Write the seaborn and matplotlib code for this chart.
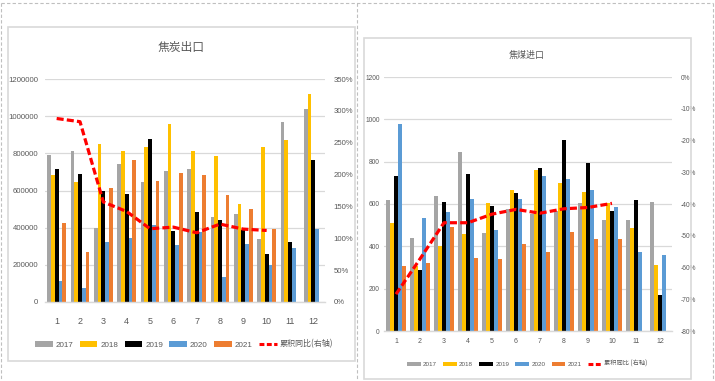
import numpy as np
import pandas as pd
import matplotlib
matplotlib.use("Agg")
import matplotlib.pyplot as plt
import seaborn as sns
from matplotlib.patches import Rectangle, Patch
from matplotlib.lines import Line2D
from matplotlib import font_manager

# ---------------- data ----------------
months = [str(m) for m in range(1, 13)]
years = ["2017", "2018", "2019", "2020", "2021"]

# 焦炭出口 (left chart)
coke_2017 = [792000, 813000, 396000, 743000, 647000, 706000, 716000, 460000, 471000, 340000, 969000, 1037000]
coke_2018 = [684000, 647000, 849000, 813000, 833000, 960000, 813000, 786000, 528000, 833000, 872000, 1119000]
coke_2019 = [716000, 690000, 596000, 582000, 878000, 383000, 485000, 442000, 389000, 260000, 324000, 765000]
coke_2020 = [111000, 73000, 324000, 346000, 416000, 308000, 376000, 136000, 313000, 201000, 292000, 394000]
coke_2021 = [426000, 267000, 614000, 765000, 652000, 695000, 684000, 577000, 502000, 394000, np.nan, np.nan]
coke_cum = [2.88, 2.83, 1.57, 1.42, 1.15, 1.175, 1.087, 1.223, 1.144, 1.123]  # 累积同比

# 焦煤进口 (right chart)
coal_2017 = [620, 440, 639, 846, 463, 575, 553, 568, 603, 526, 526, 610]
coal_2018 = [510, 305, 401, 459, 603, 668, 761, 698, 657, 606, 485, 313]
coal_2019 = [734, 290, 609, 740, 589, 654, 771, 903, 794, 567, 617, 169]
coal_2020 = [977, 534, 562, 624, 477, 624, 734, 717, 668, 587, 371, 357]
coal_2021 = [309, 320, 489, 346, 338, 412, 374, 466, 433, 437, np.nan, np.nan]
coal_cum = [-0.684, -0.573, -0.459, -0.459, -0.432, -0.417, -0.429, -0.415, -0.411, -0.398]

palette = ["#A5A5A5", "#FFC000", "#000000", "#5B9BD5", "#ED7D31"]
LINE_RED = "#FF0000"
GRID = "#D9D9D9"
TXT = "#595959"

def long_df(series):
    rows = []
    for y, vals in zip(years, series):
        for m, v in zip(months, vals):
            rows.append({"month": m, "year": y, "value": v})
    return pd.DataFrame(rows)

df_coke = long_df([coke_2017, coke_2018, coke_2019, coke_2020, coke_2021])
df_coal = long_df([coal_2017, coal_2018, coal_2019, coal_2020, coal_2021])

sns.set_theme(style="white")
plt.rcParams["font.family"] = ["Noto Sans CJK SC", "DejaVu Sans"]

available = {f.name for f in font_manager.fontManager.ttflist}
NARROW = "Liberation Sans Narrow" if "Liberation Sans Narrow" in available else "Liberation Sans"
NUMFAM = [NARROW, "Noto Sans CJK SC", "DejaVu Sans"]

W, H = 715, 381
fig = plt.figure(figsize=(W / 100, H / 100), dpi=100)

def fx(px):
    return px / W

def fy(py):
    return 1 - py / H

# page decorations: dashed outer borders and chart frames
dash = (0, (3, 2))
fig.add_artist(Line2D([fx(1), fx(713)], [fy(3), fy(3)], color="#BFBFBF", lw=0.8, ls=dash))
fig.add_artist(Line2D([fx(1), fx(1)], [fy(3), fy(381)], color="#BFBFBF", lw=0.8, ls=dash))
fig.add_artist(Line2D([fx(357), fx(357)], [fy(3), fy(381)], color="#BFBFBF", lw=0.8, ls=dash))
fig.add_artist(Line2D([fx(713), fx(713)], [fy(3), fy(381)], color="#BFBFBF", lw=0.8, ls=dash))
fig.add_artist(Rectangle((fx(8), fy(361)), fx(355) - fx(8), fy(27) - fy(361),
                         fill=False, ec="#D9D9D9", lw=1.2))
fig.add_artist(Rectangle((fx(364), fy(379)), fx(691) - fx(364), fy(38) - fy(379),
                         fill=False, ec="#D9D9D9", lw=1.2))


def draw_panel(rect, df, cum, ymax, ystep, y2lim, y2step, title, title_xy, title_size,
               legend_xy, legend_label, tick_size, ytick_size, leg_size, xpad, ypad,
               colspace, handlelen):
    ax = fig.add_axes(rect)
    sns.barplot(data=df, x="month", y="value", hue="year", hue_order=years,
                order=months, palette=palette, width=0.8, ax=ax, legend=False,
                saturation=1, errorbar=None, linewidth=0)
    ax.set_ylim(0, ymax)
    yt = np.arange(0, ymax + 1, ystep)
    ax.set_yticks(yt)
    ax.set_yticklabels([f"{int(v)}" for v in yt])
    ax.set_xlabel("")
    ax.set_ylabel("")
    ax.grid(axis="y", color=GRID, lw=0.9)
    ax.set_axisbelow(True)
    for s in ["top", "left", "right"]:
        ax.spines[s].set_visible(False)
    ax.spines["bottom"].set_color(GRID)
    ax.spines["bottom"].set_linewidth(1.0)
    ax.tick_params(axis="x", length=0, labelsize=tick_size, colors=TXT, pad=xpad)
    ax.tick_params(axis="y", length=0, labelsize=ytick_size, colors=TXT, pad=ypad)
    for lab in ax.get_xticklabels() + ax.get_yticklabels():
        lab.set_family(NUMFAM)
    ax.set_xlim(-0.5, 11.5)

    ax2 = ax.twinx()
    sns.lineplot(x=np.arange(len(cum)), y=cum, ax=ax2, color=LINE_RED, lw=2.3,
                 linestyle=(0, (2.2, 1.0)), legend=False)
    ax2.set_ylim(*y2lim)
    ticks2 = np.arange(y2lim[0], y2lim[1] + 1e-9, y2step)
    ax2.set_yticks(ticks2)
    ax2.set_yticklabels([f"{int(round(t * 100))}%" for t in ticks2])
    ax2.tick_params(axis="y", length=0, labelsize=ytick_size, colors=TXT, pad=6)
    for lab in ax2.get_yticklabels():
        lab.set_family(NUMFAM)
    ax2.grid(False)
    for s in ax2.spines.values():
        s.set_visible(False)
    ax2.set_xlim(-0.5, 11.5)

    fig.text(fx(title_xy[0]), fy(title_xy[1]), title, ha="center", va="center",
             fontsize=title_size, color=TXT)

    handles = [Patch(facecolor=c, edgecolor="none") for c in palette]
    handles.append(Line2D([0], [0], color=LINE_RED, lw=2.2, ls=(0, (1.6, 0.8))))
    labels = years + [legend_label]
    leg = fig.legend(handles, labels, loc="center",
                     bbox_to_anchor=(fx(legend_xy[0]), fy(legend_xy[1])),
                     ncol=6, frameon=False, fontsize=leg_size, handlelength=handlelen,
                     handleheight=0.7, columnspacing=colspace, handletextpad=0.35,
                     labelcolor=TXT, borderpad=0, borderaxespad=0)
    for t in leg.get_texts()[:5]:
        t.set_family(NUMFAM)
    return ax, ax2


draw_panel([fx(45), fy(302), fx(325) - fx(45), fy(79) - fy(302)], df_coke, coke_cum,
           1200000, 200000, (0, 3.5), 0.5, "焦炭出口", (181, 47), 8.5,
           (184, 344), "累积同比(右轴)", 6.5, 5.6, 5.8, 11, 5, 0.8, 2.2)

draw_panel([fx(384), fy(331), fx(672) - fx(384), fy(77) - fy(331)], df_coal, coal_cum,
           1200, 200, (-0.8, 0.0), 0.1, "焦煤进口", (527, 55), 6.5,
           (527, 364), "累积同比 (右轴)", 5.0, 4.8, 4.5, 5, 3, 1.0, 2.2)

fig.savefig("out.png", dpi=100)
